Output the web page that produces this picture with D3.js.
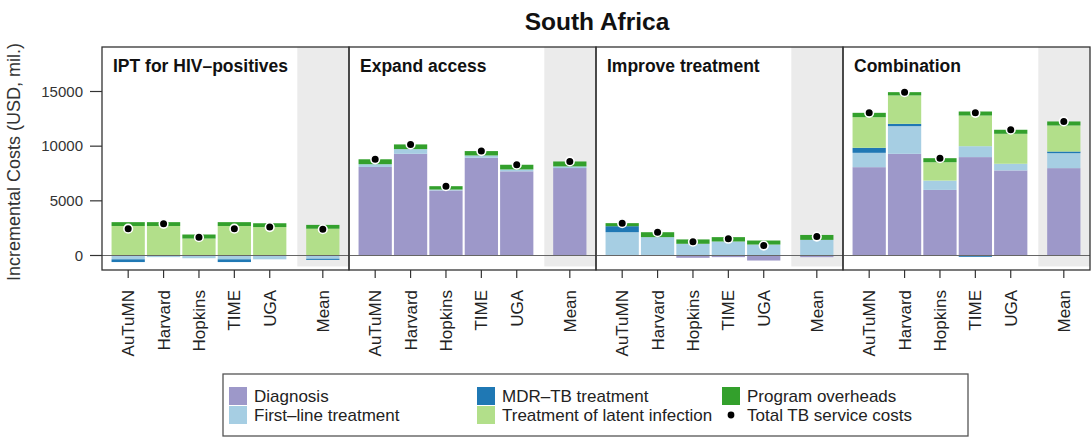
<!DOCTYPE html>
<html><head><meta charset="utf-8">
<script src="https://cdn.jsdelivr.net/npm/d3@7"></script>
<style>body{margin:0;background:#fff}svg{display:block;font-family:"Liberation Sans",Arial,sans-serif}</style>
</head><body><svg id="c" width="1091" height="437"></svg>
<script>
const models = ["AuTuMN","Harvard","Hopkins","TIME","UGA","Mean"];
const modelPos = [0,1,2,3,4,5.5];
const scenarios = ["IPT for HIV–positives","Expand access","Improve treatment","Combination"];
const components = ["Diagnosis","First–line treatment","MDR–TB treatment","Treatment of latent infection","Program overheads"];
const colors = ["#9d98c9","#a6cee3","#1f78b4","#b2df8a","#33a02c"];
const yTicks = [0,5000,10000,15000];

// values per scenario (USD mil.), one array per component, ordered as models
const iptDiagnosis  = [0,0,0,0,0,0];
const iptFirstLine  = [-350,-150,-250,-350,-350,-300];
const iptMDR        = [-250,0,0,-250,0,-100];
const iptLatent     = [2700,2700,1550,2700,2600,2450];
const iptOverheads  = [350,350,370,350,350,350];

const eaDiagnosis   = [8100,9300,5950,8950,7700,8000];
const eaFirstLine   = [250,430,80,200,170,150];
const eaMDR         = [0,0,0,0,0,0];
const eaLatent      = [0,0,0,0,0,0];
const eaOverheads   = [450,430,310,400,430,450];

const itDiagnosis   = [0,0,-210,-150,-460,-150];
const itFirstLine   = [2130,1680,1070,1280,1000,1430];
const itMDR         = [550,0,0,0,0,0];
const itLatent      = [0,0,0,0,0,0];
const itOverheads   = [280,450,400,400,370,450];

const coDiagnosis   = [8080,9300,6000,9000,7780,7990];
const coFirstLine   = [1310,2530,850,1000,610,1370];
const coMDR         = [460,210,0,-120,0,150];
const coLatent      = [2800,2600,1680,2800,2740,2380];
const coOverheads   = [400,300,370,370,370,370];

const scenarioData = [
  [iptDiagnosis,iptFirstLine,iptMDR,iptLatent,iptOverheads],
  [eaDiagnosis,eaFirstLine,eaMDR,eaLatent,eaOverheads],
  [itDiagnosis,itFirstLine,itMDR,itLatent,itOverheads],
  [coDiagnosis,coFirstLine,coMDR,coLatent,coOverheads]
];

const svg = d3.select("#c");
const y = d3.scaleLinear().domain([0,15000]).range([255.5,91.5]);
const panelTop = 47, panelBottom = 270, panelW = 247, panelX0 = 102;

// title
svg.append("text").attr("x",597).attr("y",30).attr("text-anchor","middle")
  .attr("font-size",24.5).attr("font-weight","bold").attr("fill","#111").text("South Africa");

// y-axis title
svg.append("text").attr("transform","translate(20,162) rotate(-90)").attr("text-anchor","middle")
  .attr("font-size",18).attr("fill","#333").text("Incremental Costs (USD, mil.)");

scenarios.forEach((sc,si)=>{
  const px = panelX0 + si*panelW;
  const x = d3.scaleLinear().domain([-0.74,6.24]).range([px,px+panelW]);
  const step = x(1)-x(0);
  const bw = step*0.94;
  const g = svg.append("g");
  // shade for mean
  g.append("rect").attr("x",x(4.78)).attr("y",panelTop).attr("width",px+panelW-x(4.78))
    .attr("height",y(-1000)-panelTop).attr("fill","#ebebeb");
  const rows = models.map((m,i)=>{const r={model:m,pos:modelPos[i]};components.forEach((c,ci)=>r[c]=scenarioData[si][ci][i]);return r;});
  const stack = d3.stack().keys(components).offset(d3.stackOffsetDiverging)(rows);
  stack.forEach((layer,li)=>{
    g.selectAll(null).data(layer).join("rect")
      .attr("x",d=>x(d.data.pos)-bw/2).attr("width",bw)
      .attr("y",d=>y(Math.max(d[0],d[1])))
      .attr("height",d=>Math.abs(y(d[0])-y(d[1])))
      .attr("fill",colors[li]);
  });
  g.append("line").attr("x1",px).attr("x2",px+panelW).attr("y1",y(0)).attr("y2",y(0))
    .attr("stroke","#666").attr("stroke-width",1);
  g.selectAll(null).data(rows).join("circle")
    .attr("cx",d=>x(d.pos)).attr("cy",d=>y(d3.sum(components,c=>d[c])))
    .attr("r",4.3).attr("fill","#000").attr("stroke","#fff").attr("stroke-width",1.6);
  g.append("rect").attr("x",px).attr("y",panelTop).attr("width",panelW).attr("height",panelBottom-panelTop)
    .attr("fill","none").attr("stroke","#333").attr("stroke-width",1.3);
  g.append("text").attr("x",px+11).attr("y",72).attr("font-size",17.5).attr("font-weight","bold")
    .attr("fill","#111").text(sc);
  const xa = g.append("g");
  modelPos.forEach((p,i)=>{
    xa.append("line").attr("x1",x(p)).attr("x2",x(p)).attr("y1",panelBottom).attr("y2",278)
      .attr("stroke","#333").attr("stroke-width",1.2);
    xa.append("text").attr("transform",`translate(${x(p)},290) rotate(-90)`).attr("dy","0.35em")
      .attr("text-anchor","end").attr("font-size",17).attr("fill","#222").text(models[i]);
  });
});

yTicks.forEach(t=>{
  svg.append("line").attr("x1",90).attr("x2",panelX0).attr("y1",y(t)).attr("y2",y(t))
    .attr("stroke","#333").attr("stroke-width",1.2);
  svg.append("text").attr("x",83).attr("y",y(t)).attr("dy","0.35em").attr("text-anchor","end")
    .attr("font-size",15).attr("fill","#333").text(t);
});

// legend
const lg = svg.append("g");
lg.append("rect").attr("x",223).attr("y",374).attr("width",745).attr("height",62)
  .attr("fill","#fff").attr("stroke","#555").attr("stroke-width",1.3);
const legendItems = [
  {label:components[0],color:colors[0],x:229,y:387},
  {label:components[1],color:colors[1],x:229,y:406},
  {label:components[2],color:colors[2],x:477,y:387},
  {label:components[3],color:colors[3],x:477,y:406},
  {label:components[4],color:colors[4],x:722,y:387},
  {label:"Total TB service costs",color:null,x:722,y:406}
];
legendItems.forEach(it=>{
  if(it.color) lg.append("rect").attr("x",it.x).attr("y",it.y).attr("width",18).attr("height",18).attr("fill",it.color);
  else lg.append("circle").attr("cx",it.x+9).attr("cy",it.y+9).attr("r",3.4).attr("fill","#000");
  lg.append("text").attr("x",it.x+25).attr("y",it.y+9).attr("dy","0.35em").attr("font-size",17)
    .attr("fill","#222").text(it.label);
});
</script></body></html>
